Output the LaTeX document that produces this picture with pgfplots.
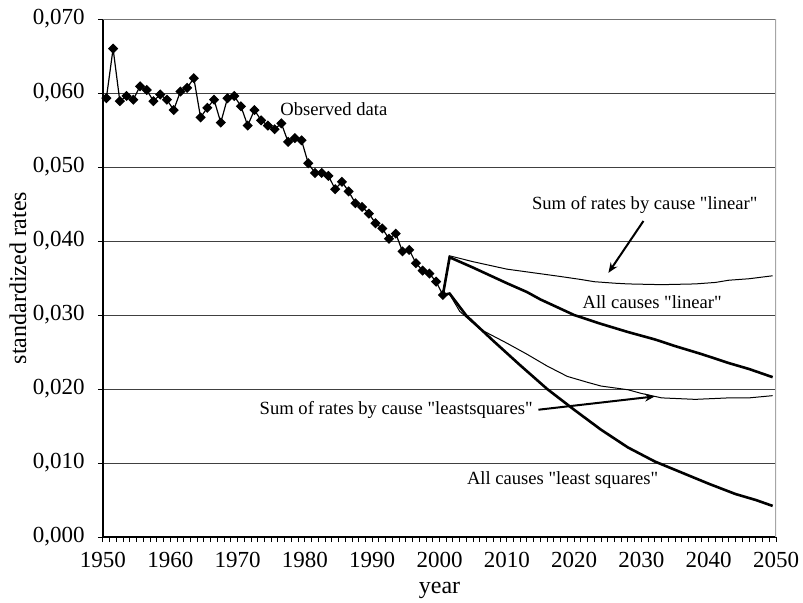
\documentclass[border=0pt]{standalone}
\usepackage{fontspec}
\setmainfont{Liberation Serif}[Ligatures=TeXOff]
\usepackage{pgfplots}
\pgfplotsset{compat=1.18}
\usetikzlibrary{arrows.meta}
\newcommand{\tickfont}{\fontsize{11.5bp}{13bp}\selectfont}
\newcommand{\labfont}{\fontsize{12bp}{14bp}\selectfont}
\newcommand{\annfont}{\fontsize{9.3bp}{11bp}\selectfont}
\begin{document}
\begin{tikzpicture}
\begin{axis}[name=ax, scale only axis, width=336.5bp, height=259bp,
  xmin=1950, xmax=2050, ymin=0, ymax=0.07,
  axis x line*=bottom, axis y line*=left,
  axis line style={black, line width=0.7bp},
  xtick={1950,1960,...,2050}, minor x tick num=9,
  ytick={0,0.01,0.02,0.03,0.04,0.05,0.06,0.07},
  tick align=outside, major tick length=2.5bp, minor tick length=2.5bp,
  tick style={black, line width=0.5bp},
  ymajorgrids, grid style={black!75, line width=0.5bp},
  /pgf/number format/assume math mode=true,
  scaled y ticks=false,
  xticklabel style={/pgf/number format/1000 sep={}, inner sep=0pt, yshift=-5bp, font=\tickfont},
  yticklabel style={/pgf/number format/fixed, /pgf/number format/fixed zerofill, /pgf/number format/precision=3, /pgf/number format/use comma, anchor=east, inner sep=0pt, xshift=-6.5bp, font=\tickfont},
  xlabel={year}, ylabel={standardized rates},
  xlabel style={at={(axis description cs:0.5,-0.104)}, anchor=center, font=\labfont},
  ylabel style={at={(axis description cs:-0.1263,0.5)}, anchor=center, font=\labfont},
]
% projections
\addplot[black, line width=0.5bp] coordinates {
(2000.5,0.0327) (2001.5,0.0380) (2005,0.0372) (2010,0.0362) (2014,0.0357) (2018,0.0352)
(2021,0.0348) (2023,0.0345) (2026,0.0343) (2028,0.0342) (2033,0.0341) (2038,0.0342)
(2041,0.0344) (2043,0.0347) (2046,0.0349) (2049.5,0.0353)};
\addplot[black, line width=1.3bp] coordinates {
(2000.5,0.0327) (2001.5,0.0378) (2005,0.0364) (2010,0.0343) (2013,0.0331) (2015,0.0321)
(2020,0.0300) (2024,0.0288) (2028,0.0277) (2032,0.0267) (2035,0.0258) (2039,0.0247)
(2043,0.0235) (2046,0.0227) (2049.5,0.0216)};
\addplot[black, line width=0.5bp] coordinates {
(2000.5,0.0327) (2001.5,0.0328) (2003,0.0305) (2006,0.0281) (2010,0.0262) (2013,0.0247)
(2016,0.0231) (2019,0.0217) (2022,0.0209) (2024,0.0204) (2028,0.0199) (2030,0.0194)
(2033,0.0188) (2038,0.0186) (2043,0.0188) (2046,0.0188) (2049.5,0.0191)};
\addplot[black, line width=1.3bp] coordinates {
(2000.5,0.0327) (2001.5,0.0329) (2004,0.0299) (2008,0.0265) (2012,0.0232) (2016,0.0200)
(2020,0.0172) (2024,0.0145) (2028,0.0121) (2032,0.0102) (2036,0.0087) (2040,0.0072)
(2044,0.0058) (2047,0.0050) (2049.5,0.0042)};
% observed
\addplot[black, line width=0.6bp, mark=square*, mark size=1.5bp, mark options={rotate=45, solid},
  x filter/.expression={x+0.5}] coordinates {
(1950,0.0593) (1951,0.0660) (1952,0.0589) (1953,0.0596) (1954,0.0591) (1955,0.0609)
(1956,0.0604) (1957,0.0589) (1958,0.0598) (1959,0.0591) (1960,0.0577) (1961,0.0602)
(1962,0.0607) (1963,0.0620) (1964,0.0567) (1965,0.0580) (1966,0.0591) (1967,0.0560)
(1968,0.0593) (1969,0.0596) (1970,0.0582) (1971,0.0556) (1972,0.0577) (1973,0.0563)
(1974,0.0556) (1975,0.0551) (1976,0.0559) (1977,0.0534) (1978,0.0539) (1979,0.0536)
(1980,0.0505) (1981,0.0492) (1982,0.0492) (1983,0.0488) (1984,0.0470) (1985,0.0480)
(1986,0.0467) (1987,0.0451) (1988,0.0446) (1989,0.0437) (1990,0.0424) (1991,0.0417)
(1992,0.0403) (1993,0.0410) (1994,0.0386) (1995,0.0388) (1996,0.0370) (1997,0.0360)
(1998,0.0356) (1999,0.0345) (2000,0.0327)};
% frame top/right
\draw[black!55, line width=0.7bp] (rel axis cs:0,1) -- (rel axis cs:1,1);
\draw[black!35, line width=0.8bp] (rel axis cs:1,0) -- (rel axis cs:1,1);
% annotations
\node[anchor=west, font=\annfont, inner sep=0pt] at (axis cs:1976.3,0.0578) {Observed data};
\node[font=\annfont, inner sep=0pt] at (axis cs:2030.5,0.0449) {Sum of rates by cause "linear"};
\draw[-{Stealth[length=5bp,width=4bp]}, line width=1bp] (axis cs:2030.3,0.0427) -- (axis cs:2025.1,0.0357);
\node[font=\annfont, inner sep=0pt] at (axis cs:2031.6,0.0318) {All causes "linear"};
\node[anchor=east, font=\annfont, inner sep=0pt] at (axis cs:2013.9,0.0172) {Sum of rates by cause "leastsquares"};
\draw[-{Stealth[length=5bp,width=4bp]}, line width=1bp] (axis cs:2014.7,0.0172) -- (axis cs:2032.0,0.0190);
\node[font=\annfont, inner sep=0pt] at (axis cs:2018.3,0.0077) {All causes "least squares"};
\end{axis}
\pgfresetboundingbox
\path[use as bounding box] ([shift={(-51.5bp,-33bp)}]ax.south west) rectangle ([shift={(13.5bp,9.5bp)}]ax.north east);
\end{tikzpicture}
\end{document}
